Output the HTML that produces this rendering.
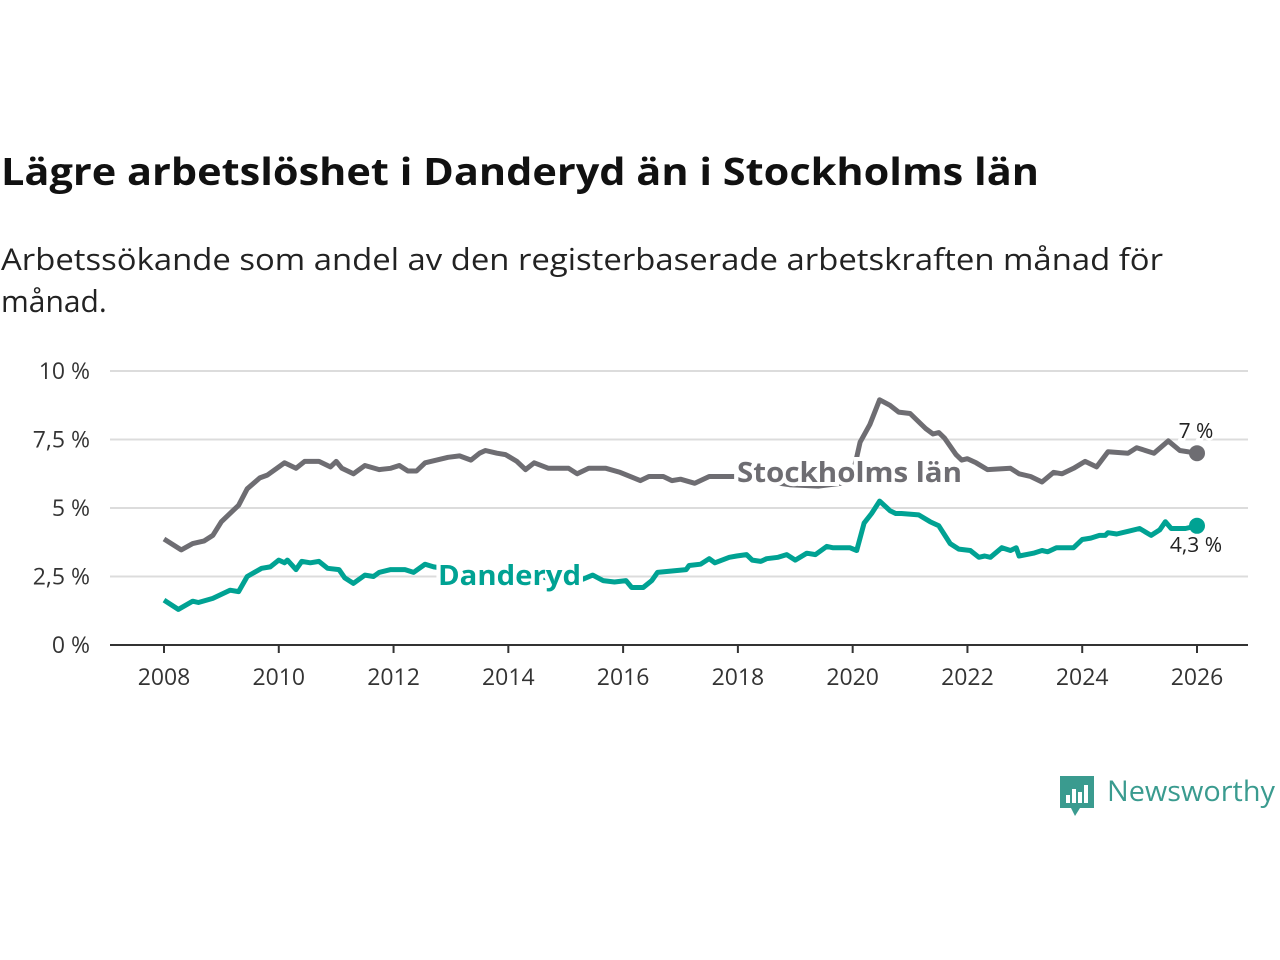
<!DOCTYPE html>
<html><head><meta charset="utf-8"><style>
body{margin:0;background:#fff;}
svg{display:block;font-family:"Open Sans","DejaVu Sans","Liberation Sans",sans-serif;}
</style></head><body>
<svg width="1280" height="960" viewBox="0 0 1280 960" id="svg">
<text x="1" y="185" font-size="38" font-weight="bold" fill="#111" textLength="1038" lengthAdjust="spacingAndGlyphs">Lägre arbetslöshet i Danderyd än i Stockholms län</text>
<text x="1" y="270" font-size="30" fill="#222" textLength="1162" lengthAdjust="spacingAndGlyphs">Arbetssökande som andel av den registerbaserade arbetskraften månad för</text>
<text x="1" y="312" font-size="30" fill="#222">månad.</text>
<g id="grid"></g><g id="lines"></g><g id="labels"></g>
<g>
<path d="M1060 776 h34 v32 h-14 l-5 8 l-4 -8 h-11 z" fill="#3a9b8f"/>
<rect x="1066" y="795" width="4" height="8" fill="#fff"/><rect x="1072" y="789" width="4" height="14" fill="#fff"/><rect x="1078" y="792" width="4" height="11" fill="#fff"/><rect x="1084" y="785" width="4" height="18" fill="#fff"/>
<text x="1107" y="801" font-size="28" fill="#3a9b8f" textLength="168" lengthAdjust="spacingAndGlyphs">Newsworthy</text>
</g>
</svg>
<script>
const yearsS=[2008,2008.3,2008.5,2008.7,2008.85,2009.0,2009.2,2009.3,2009.45,2009.67,2009.8,2010.1,2010.3,2010.45,2010.7,2010.9,2011.0,2011.1,2011.3,2011.5,2011.75,2011.95,2012.1,2012.25,2012.4,2012.55,2012.75,2012.95,2013.15,2013.35,2013.5,2013.6,2013.8,2013.95,2014.15,2014.3,2014.45,2014.7,2015.05,2015.2,2015.4,2015.7,2015.95,2016.3,2016.45,2016.7,2016.85,2017.0,2017.25,2017.5,2017.95,2018.4,2018.9,2019.4,2019.8,2020.0,2020.13,2020.3,2020.47,2020.65,2020.8,2021.0,2021.27,2021.4,2021.5,2021.6,2021.8,2021.9,2022.0,2022.15,2022.35,2022.75,2022.9,2023.1,2023.3,2023.5,2023.65,2023.85,2024.05,2024.25,2024.45,2024.8,2024.95,2025.25,2025.5,2025.7,2026.0];
const valuesS=[3.87,3.47,3.7,3.8,4.0,4.5,4.9,5.1,5.7,6.1,6.2,6.65,6.45,6.7,6.7,6.5,6.7,6.45,6.25,6.55,6.4,6.45,6.55,6.35,6.35,6.65,6.75,6.85,6.9,6.75,7.0,7.1,7.0,6.95,6.7,6.4,6.65,6.45,6.45,6.25,6.45,6.45,6.3,6.0,6.15,6.15,6.0,6.05,5.9,6.15,6.15,6.0,5.85,5.8,5.9,6.2,7.4,8.05,8.95,8.75,8.5,8.45,7.9,7.7,7.75,7.55,6.95,6.75,6.8,6.65,6.4,6.45,6.25,6.15,5.95,6.3,6.25,6.45,6.7,6.5,7.05,7.0,7.2,7.0,7.45,7.1,7.0];
const yearsD=[2008,2008.25,2008.5,2008.6,2008.85,2009.15,2009.3,2009.45,2009.7,2009.85,2010.0,2010.1,2010.15,2010.3,2010.4,2010.55,2010.7,2010.85,2011.05,2011.15,2011.3,2011.5,2011.65,2011.75,2011.95,2012.2,2012.35,2012.55,2012.7,2013.2,2013.8,2014.4,2015.0,2015.3,2015.47,2015.65,2015.85,2016.05,2016.15,2016.35,2016.5,2016.6,2017.1,2017.15,2017.35,2017.5,2017.6,2017.85,2017.98,2018.15,2018.25,2018.4,2018.5,2018.7,2018.85,2019.0,2019.2,2019.35,2019.55,2019.65,2019.95,2020.07,2020.2,2020.33,2020.47,2020.65,2020.75,2020.85,2021.15,2021.35,2021.5,2021.7,2021.85,2022.05,2022.2,2022.3,2022.4,2022.6,2022.75,2022.85,2022.9,2023.15,2023.3,2023.4,2023.55,2023.85,2024.0,2024.15,2024.3,2024.4,2024.45,2024.6,2024.8,2025.0,2025.2,2025.35,2025.45,2025.55,2025.8,2026.0];
const valuesD=[1.64,1.3,1.6,1.55,1.7,2.0,1.95,2.5,2.8,2.85,3.1,3.0,3.1,2.75,3.05,3.0,3.05,2.8,2.75,2.45,2.25,2.55,2.5,2.65,2.75,2.75,2.65,2.95,2.85,2.7,2.6,2.5,2.4,2.4,2.55,2.35,2.3,2.35,2.1,2.1,2.35,2.65,2.75,2.9,2.95,3.15,3.0,3.2,3.25,3.3,3.1,3.05,3.15,3.2,3.3,3.1,3.35,3.3,3.6,3.55,3.55,3.45,4.45,4.8,5.25,4.9,4.8,4.8,4.75,4.5,4.35,3.7,3.5,3.45,3.2,3.25,3.2,3.55,3.45,3.55,3.25,3.35,3.45,3.4,3.55,3.55,3.85,3.9,4.0,4.0,4.1,4.05,4.15,4.25,4.0,4.2,4.5,4.25,4.25,4.35];
const yTicks=[0,2.5,5,7.5,10];
const yTickLabels=["0 %","2,5 %","5 %","7,5 %","10 %"];
const xTicks=[2008,2010,2012,2014,2016,2018,2020,2022,2024,2026];
const NS="http://www.w3.org/2000/svg";
const X=v=>164+(v-2008)*(1197-164)/18;
const Y=v=>645-v*27.4;
function mk(tag,attrs,parent,text){const e=document.createElementNS(NS,tag);for(const k in attrs)e.setAttribute(k,attrs[k]);if(text!==undefined)e.textContent=text;document.getElementById(parent).appendChild(e);return e;}
yTicks.forEach((t,i)=>{
 const l=mk('line',{x1:110,x2:1248,y1:Y(t),y2:Y(t),stroke:t===0?'#333':'#dcdcdc','stroke-width':2},'grid');
 
 
 const tx=mk('text',{x:90,y:Y(t)+8,'font-size':23,fill:'#333','text-anchor':'end'},'grid',yTickLabels[i]);
 
 
});
xTicks.forEach(t=>{
 const l=mk('line',{x1:X(t),x2:X(t),y1:645,y2:653,stroke:'#333','stroke-width':2},'grid');
 
 
 const tx=mk('text',{x:X(t),y:685,'font-size':23,fill:'#333','text-anchor':'middle'},'grid',String(t));
 
 
});
function line(xs,vs,color,name){
 const d=xs.map((x,i)=>(i?'L':'M')+X(x).toFixed(1)+' '+Y(vs[i]).toFixed(1)).join(' ');
 const p=mk('path',{d:d,fill:'none',stroke:color,'stroke-width':5,'stroke-linejoin':'round'},'lines');
 
 
 const c=mk('circle',{cx:X(xs[xs.length-1]),cy:Y(vs[vs.length-1]),r:8,fill:color},'lines');
 
 
}
line(yearsS,valuesS,'#6e6d72','stockholm');
line(yearsD,valuesD,'#00a293','danderyd');
const l1=mk('text',{x:737,y:482,'font-size':28,'font-weight':'bold',fill:'#6e6d72',stroke:'#fff','stroke-width':8,'paint-order':'stroke','textLength':225,'lengthAdjust':'spacingAndGlyphs'},'labels','Stockholms län');


const l2=mk('text',{x:438,y:585,'font-size':28,'font-weight':'bold',fill:'#00a293',stroke:'#fff','stroke-width':8,'paint-order':'stroke','textLength':143,'lengthAdjust':'spacingAndGlyphs'},'labels','Danderyd');


const v1=mk('text',{x:1196,y:438,'font-size':21,fill:'#222','text-anchor':'middle',stroke:'#fff','stroke-width':5,'paint-order':'stroke'},'labels','7 %');


const v2=mk('text',{x:1196,y:552,'font-size':21,fill:'#222','text-anchor':'middle',stroke:'#fff','stroke-width':5,'paint-order':'stroke'},'labels','4,3 %');


</script>
</body></html>
